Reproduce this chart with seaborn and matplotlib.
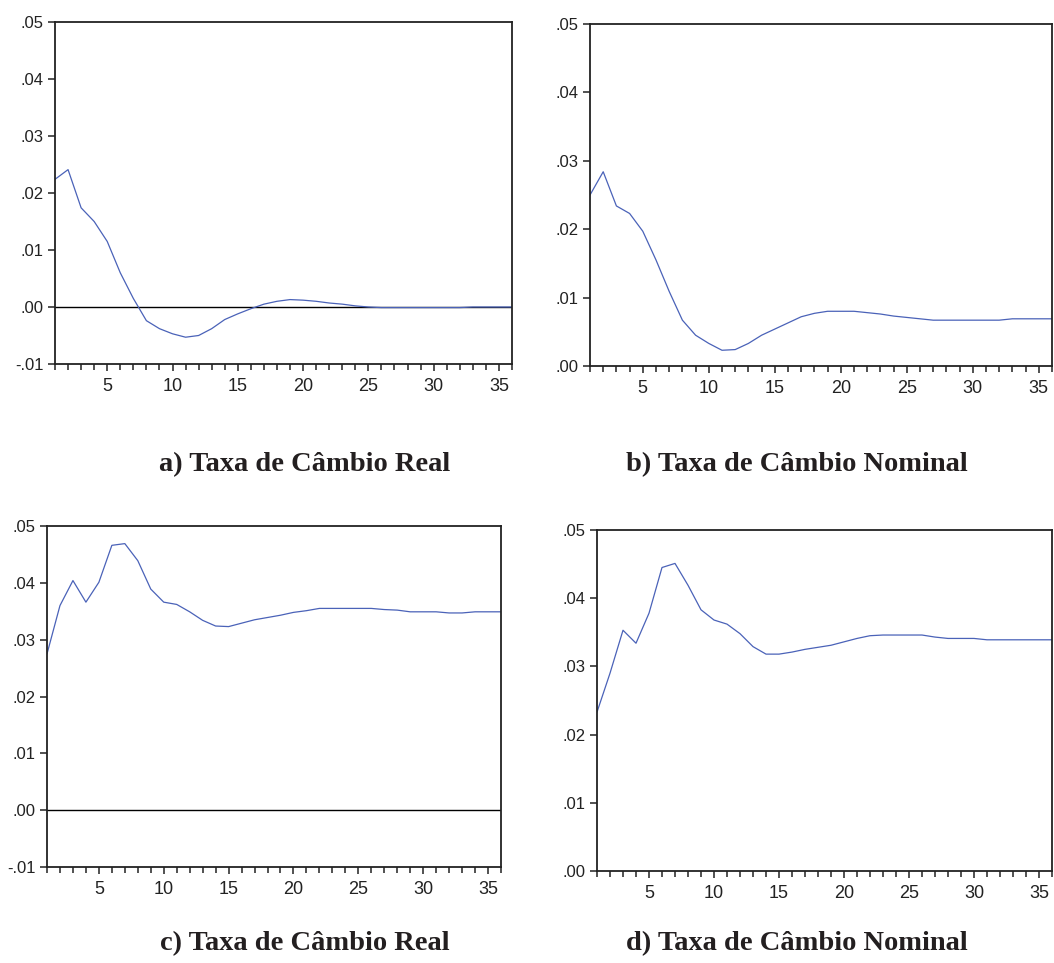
import numpy as np
import pandas as pd
import matplotlib
matplotlib.use('Agg')
import matplotlib.pyplot as plt
import seaborn as sns
from matplotlib.ticker import MultipleLocator, FuncFormatter

sns.set_style('ticks')
plt.rcParams['font.family'] = ['Liberation Sans', 'DejaVu Sans']

# periodos da resposta ao impulso
periods = list(range(1, 37))

# a) Taxa de Câmbio Real
real_a = [0.0224, 0.0241, 0.0174, 0.0150, 0.0115, 0.0060, 0.0015, -0.0024, -0.0038, -0.0047,
          -0.0053, -0.0050, -0.0038, -0.0022, -0.0012, -0.0003, 0.0005, 0.0010, 0.0013, 0.0012,
          0.0010, 0.0007, 0.0005, 0.0002, 0.0000, -0.0001, -0.0001, -0.0001, -0.0001, -0.0001,
          -0.0001, -0.0001, 0.0000, 0.0000, 0.0000, 0.0000]

# b) Taxa de Câmbio Nominal
nominal_b = [0.0250, 0.0284, 0.0234, 0.0223, 0.0197, 0.0155, 0.0109, 0.0067, 0.0045, 0.0033,
             0.0023, 0.0024, 0.0033, 0.0045, 0.0054, 0.0063, 0.0072, 0.0077, 0.0080, 0.0080,
             0.0080, 0.0078, 0.0076, 0.0073, 0.0071, 0.0069, 0.0067, 0.0067, 0.0067, 0.0067,
             0.0067, 0.0067, 0.0069, 0.0069, 0.0069, 0.0069]

# c) Taxa de Câmbio Real
real_c = [0.0275, 0.0360, 0.0404, 0.0366, 0.0401, 0.0466, 0.0469, 0.0439, 0.0389, 0.0366,
          0.0362, 0.0349, 0.0334, 0.0324, 0.0323, 0.0329, 0.0335, 0.0339, 0.0343, 0.0348,
          0.0351, 0.0355, 0.0355, 0.0355, 0.0355, 0.0355, 0.0353, 0.0352, 0.0349, 0.0349,
          0.0349, 0.0347, 0.0347, 0.0349, 0.0349, 0.0349]

# d) Taxa de Câmbio Nominal
nominal_d = [0.0233, 0.0290, 0.0353, 0.0334, 0.0378, 0.0445, 0.0451, 0.0419, 0.0383, 0.0368,
             0.0362, 0.0348, 0.0329, 0.0318, 0.0318, 0.0321, 0.0325, 0.0328, 0.0331, 0.0336,
             0.0341, 0.0345, 0.0346, 0.0346, 0.0346, 0.0346, 0.0343, 0.0341, 0.0341, 0.0341,
             0.0339, 0.0339, 0.0339, 0.0339, 0.0339, 0.0339]

captions = ['a) Taxa de Câmbio Real', 'b) Taxa de Câmbio Nominal',
            'c) Taxa de Câmbio Real', 'd) Taxa de Câmbio Nominal']

W, H = 1054, 963
fig = plt.figure(figsize=(W / 100, H / 100), dpi=100)

# (esquerda, direita, topo, base) em pixels
boxes = [(55, 512, 22, 364), (590, 1052, 24, 366),
         (47, 501, 526, 867), (597, 1052, 530, 871)]
series = [real_a, nominal_b, real_c, nominal_d]
ylims = [(-0.01, 0.05), (0.0, 0.05), (-0.01, 0.05), (0.0, 0.05)]
cap_pos = [(305, 471), (797, 471), (305, 950), (797, 950)]

fmt = FuncFormatter(lambda v, _: ('%.2f' % v).replace('0.', '.', 1))

for i in range(4):
    l, r, t, b = boxes[i]
    ax = fig.add_axes([l / W, 1 - b / H, (r - l) / W, (b - t) / H])
    df = pd.DataFrame({'periodo': periods, 'valor': series[i]})
    sns.lineplot(data=df, x='periodo', y='valor', ax=ax, color='#4a62b8', linewidth=0.9)
    if ylims[i][0] < 0:
        ax.axhline(0, color='black', linewidth=1.0, zorder=1)
    ax.set_xlim(1, 36)
    ax.set_ylim(*ylims[i])
    ax.xaxis.set_minor_locator(MultipleLocator(1))
    ax.yaxis.set_major_locator(MultipleLocator(0.01))
    ax.yaxis.set_major_formatter(fmt)
    ax.set_xticks([5, 10, 15, 20, 25, 30, 35])
    ax.set_xlabel('')
    ax.set_ylabel('')
    ax.tick_params(axis='both', which='major', direction='out', length=5, width=1.1,
                   color='#222222', labelcolor='#222222')
    ax.tick_params(axis='x', which='minor', direction='out', length=4, width=1.1,
                   color='#222222')
    ax.tick_params(axis='y', labelsize=12, pad=3)
    ax.tick_params(axis='x', labelsize=13, pad=5)
    for s in ax.spines.values():
        s.set_linewidth(1.3)
        s.set_color('#222222')
    cx, cy = cap_pos[i]
    fig.text(cx / W, 1 - cy / H, captions[i], ha='center', va='baseline',
             family=['Liberation Serif', 'DejaVu Serif'], fontweight='bold', fontsize=20.5,
             color='#231f20')

fig.savefig('out.png', dpi=100)
